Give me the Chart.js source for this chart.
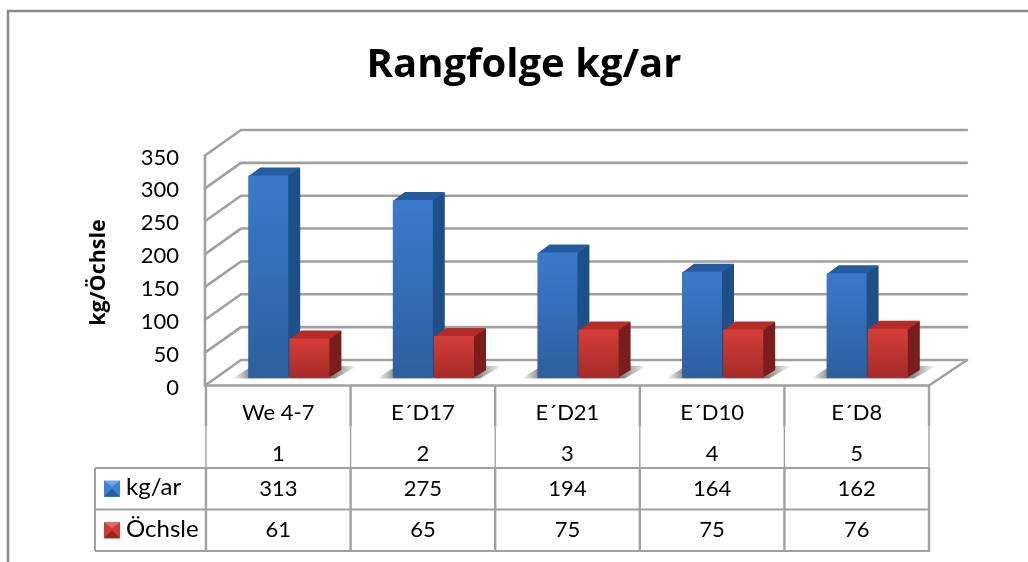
<!DOCTYPE html>
<html lang="de">
<head>
<meta charset="utf-8">
<title>Rangfolge kg/ar</title>
<style>
html,body{margin:0;padding:0;background:#fff}
canvas{display:block;filter:blur(0.35px)}
</style>
<script src="https://cdn.jsdelivr.net/npm/chart.js@4"></script>
</head>
<body>
<canvas id="c" width="1028" height="562"></canvas>
<script>
const varieties = ["We 4-7", "E´D17", "E´D21", "E´D10", "E´D8"];
const ranks = ["1", "2", "3", "4", "5"];
const kgAr = [313, 275, 194, 164, 162];
const oechsle = [61, 65, 75, 75, 76];
const seriesNames = ["kg/ar", "Öchsle"];
const yTicks = [0, 50, 100, 150, 200, 250, 300, 350];

const FONT = "Lato";
const HEAD = "'Open Sans'";
const GRID = "#a0a0a0";
const PLANE_DY = -2;                    // wall lines sit just above the tick label centres
const WALL = {dx: 35, dy: -25.5};       // back wall offset from front plane
const BAR = {dx: 10.5, dy: -9.5, k: 0.985}; // bars sit inside the floor, slightly foreshortened
const DEPTH = {dx: 12, dy: -8};         // 3D depth of one bar
const TABLE = {left: 95, split: 206, row1: 468, row2: 509.5, bottom: 551};
const SHADES = [
  {top: "#3b7acb", bottom: "#2e5f9f", side: "#1f4f87", cap: "#255c9f", k1: "#3f82d2", k2: "#2a5d9e", k3: "#6ea6e0"},
  {top: "#d43e38", bottom: "#a62b27", side: "#7a1e1c", cap: "#b42b27", k1: "#cf3a35", k2: "#9c2723", k3: "#e26a66"}
];

function frontFace(ctx) {
  const chart = ctx.chart;
  const s = SHADES[ctx.datasetIndex];
  if (!chart.chartArea || !ctx.parsed) return s.top;
  const y = chart.scales.y;
  const g = chart.ctx.createLinearGradient(0, y.getPixelForValue(ctx.parsed.y), 0, y.getPixelForValue(0));
  g.addColorStop(0, s.top);
  g.addColorStop(1, s.bottom);
  return g;
}

const scene3d = {
  id: "scene3d",
  beforeDraw(chart) {
    const c = chart.ctx;
    c.save();
    c.fillStyle = "#fff";
    c.fillRect(0, 0, chart.width, chart.height);
    c.strokeStyle = "#8a8a8a";
    c.lineWidth = 2.5;
    c.beginPath();
    c.moveTo(chart.width, 11);
    c.lineTo(8, 11);
    c.lineTo(8, chart.height);
    c.stroke();
    c.restore();
  },
  beforeDatasetsDraw(chart) {
    const c = chart.ctx, y = chart.scales.y, a = chart.chartArea;
    const py = v => y.getPixelForValue(v) + PLANE_DY;
    c.save();
    c.lineCap = "round";
    const y0 = py(0);
    // grid on side wall and back wall
    c.strokeStyle = GRID;
    c.lineWidth = 2.6;
    yTicks.forEach(v => {
      const p = py(v);
      c.beginPath();
      c.moveTo(a.left - 1, p);
      c.lineTo(a.left + WALL.dx, p + WALL.dy);
      c.lineTo(a.right + WALL.dx + 3, p + WALL.dy);
      c.stroke();
    });
    c.beginPath();
    c.moveTo(a.left - 1, py(350));
    c.lineTo(a.left - 1, y0);
    c.stroke();
    c.beginPath();
    c.moveTo(a.right, y0);
    c.lineTo(a.right + WALL.dx + 3, y0 + WALL.dy);
    c.stroke();
    // floor front edge
    c.beginPath();
    c.moveTo(a.left - 1, y0);
    c.lineTo(a.right, y0);
    c.stroke();
    // floor shadows of each bar pair
    const m0 = chart.getDatasetMeta(0).data, m1 = chart.getDatasetMeta(1).data;
    const barY = p => a.bottom + BAR.dy + (p - a.bottom) * BAR.k;
    m0.forEach((el, i) => {
      const L = el.x - el.width / 2 + BAR.dx, R = m1[i].x + m1[i].width / 2 + BAR.dx, b = barY(el.base);
      const g = c.createLinearGradient(L - 16, 0, R + 28, 0);
      g.addColorStop(0, "rgba(70,70,70,0)");
      g.addColorStop(0.16, "rgba(70,70,70,.7)");
      g.addColorStop(0.8, "rgba(70,70,70,.7)");
      g.addColorStop(1, "rgba(70,70,70,0)");
      c.fillStyle = g;
      c.beginPath();
      c.moveTo(L - 16, b + 0.5);
      c.lineTo(R + 6, b + 0.5);
      c.lineTo(R + 28, b - 12);
      c.lineTo(L + 4, b - 12);
      c.closePath();
      c.fill();
    });
    // side and top faces: first series, then second, so the second overlaps the first
    [0, 1].forEach(d => {
      const s = SHADES[d];
      chart.getDatasetMeta(d).data.forEach(el => {
        const L = el.x - el.width / 2 + BAR.dx, R = el.x + el.width / 2 + BAR.dx, T = barY(el.y), B = barY(el.base);
        c.fillStyle = s.side;
        c.beginPath();
        c.moveTo(R - 1, T);
        c.lineTo(R + DEPTH.dx, T + DEPTH.dy);
        c.lineTo(R + DEPTH.dx, B + DEPTH.dy);
        c.lineTo(R - 1, B);
        c.closePath();
        c.fill();
        c.fillStyle = s.cap;
        c.beginPath();
        c.moveTo(L, T + 1);
        c.lineTo(L + DEPTH.dx, T + DEPTH.dy);
        c.lineTo(R + DEPTH.dx, T + DEPTH.dy);
        c.lineTo(R, T + 1);
        c.closePath();
        c.fill();
      });
    });
    c.restore();
  },
  beforeDatasetDraw(chart) {
    const c = chart.ctx, b = chart.chartArea.bottom;
    c.save();
    c.translate(BAR.dx, b + BAR.dy);
    c.scale(1, BAR.k);
    c.translate(0, -b);
  },
  afterDatasetDraw(chart) {
    chart.ctx.restore();
  },
  afterDraw(chart) {
    const c = chart.ctx, a = chart.chartArea, x = chart.scales.x;
    const cell = (a.right - a.left) / varieties.length;
    const floor = a.bottom + PLANE_DY;
    c.save();
    c.strokeStyle = GRID;
    // vertical separators beneath the floor
    for (let i = 0; i <= varieties.length; i++) {
      const vx = a.left + cell * i;
      c.lineWidth = 2.4;
      c.beginPath(); c.moveTo(vx, floor); c.lineTo(vx, floor + 41); c.stroke();
      c.lineWidth = 1.4;
      c.beginPath(); c.moveTo(vx, floor + 41); c.lineTo(vx, TABLE.row1); c.stroke();
      c.lineWidth = 2.4;
      c.beginPath(); c.moveTo(vx, TABLE.row1); c.lineTo(vx, TABLE.bottom); c.stroke();
    }
    // horizontal rules and the legend column box
    c.lineWidth = 2;
    [TABLE.row1, TABLE.row2, TABLE.bottom].forEach(ry => {
      c.beginPath(); c.moveTo(TABLE.left, ry); c.lineTo(a.right + 1, ry); c.stroke();
    });
    c.beginPath(); c.moveTo(TABLE.left, TABLE.row1); c.lineTo(TABLE.left, TABLE.bottom); c.stroke();
    // rows
    c.fillStyle = "#000";
    c.textBaseline = "middle";
    [kgAr, oechsle].forEach((vals, r) => {
      const my = (r === 0 ? (TABLE.row1 + TABLE.row2) : (TABLE.row2 + TABLE.bottom)) / 2;
      c.font = "22px " + FONT;
      c.textAlign = "center";
      vals.forEach((v, i) => c.fillText(String(v), x.getPixelForTick(i), my));
      c.font = "24px " + FONT;
      c.textAlign = "left";
      c.fillText(seriesNames[r], 126, my - 1);
      // legend key
      const s = SHADES[r], kx = 104, ky = my - 8, ks = 16;
      c.fillStyle = s.k1;
      c.fillRect(kx, ky, ks, ks);
      c.fillStyle = s.k2;
      c.beginPath(); c.moveTo(kx, ky + ks); c.lineTo(kx + ks / 2, ky + ks / 2); c.lineTo(kx + ks, ky + ks); c.closePath(); c.fill();
      c.fillStyle = s.k3;
      c.beginPath(); c.moveTo(kx, ky); c.lineTo(kx + ks / 2, ky + ks / 2 - 2); c.lineTo(kx + ks, ky); c.closePath(); c.fill();
      c.fillStyle = "#000";
    });
    c.restore();
  }
};

new Chart(document.getElementById("c"), {
  type: "bar",
  data: {
    labels: varieties.map((v, i) => [v, ranks[i]]),
    datasets: [
      {label: seriesNames[0], data: kgAr, backgroundColor: frontFace, clip: false},
      {label: seriesNames[1], data: oechsle, backgroundColor: frontFace, clip: false}
    ]
  },
  options: {
    responsive: false,
    animation: false,
    layout: {padding: {left: 119, right: 99, top: 0, bottom: 11}},
    datasets: {bar: {categoryPercentage: 0.57, barPercentage: 0.97, borderWidth: 0, borderRadius: 1}},
    plugins: {
      legend: {display: false},
      tooltip: {enabled: false},
      title: {
        display: true,
        text: "Rangfolge kg/ar",
        color: "#000",
        font: {family: HEAD, size: 40, weight: "bold", lineHeight: 1.2},
        padding: {top: 42, bottom: 67.5}
      }
    },
    scales: {
      x: {
        afterFit(s) { s.height = 163.5; },
        grid: {display: false, drawTicks: false},
        border: {display: false},
        ticks: {
          color: "#000",
          maxRotation: 0,
          autoSkip: false,
          padding: 5,
          font: {family: FONT, size: 22, lineHeight: 1.86}
        }
      },
      y: {
        min: 0,
        max: 350,
        afterFit(s) { s.width = 87; },
        grid: {display: false, drawTicks: false},
        border: {display: false},
        ticks: {
          color: "#000",
          stepSize: 50,
          padding: 27,
          font: {family: FONT, size: 22}
        },
        title: {
          display: true,
          text: "kg/Öchsle",
          color: "#000",
          font: {family: HEAD, size: 21.5, weight: "bold"},
          padding: {top: -33, bottom: 0}
        }
      }
    }
  },
  plugins: [scene3d]
});
</script>
</body>
</html>
